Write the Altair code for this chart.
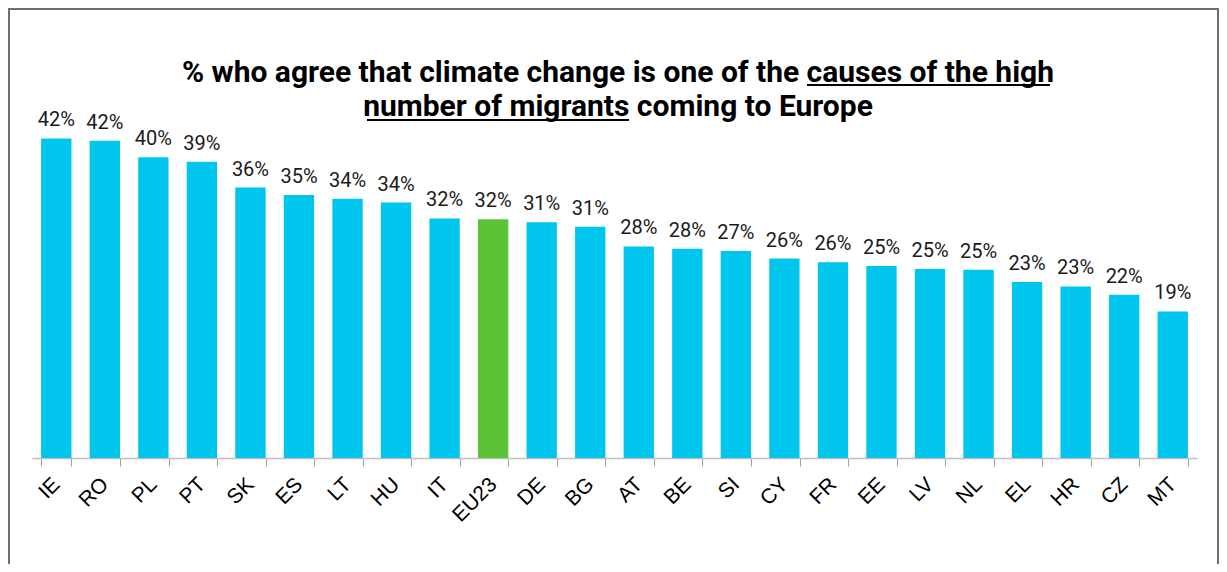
import altair as alt
import pandas as pd

countries = ["IE", "RO", "PL", "PT", "SK", "ES", "LT", "HU", "IT", "EU23", "DE", "BG",
             "AT", "BE", "SI", "CY", "FR", "EE", "LV", "NL", "EL", "HR", "CZ", "MT"]
values = [42.3, 42.0, 39.8, 39.2, 35.8, 34.8, 34.3, 33.8, 31.7, 31.6, 31.2, 30.6,
          28.0, 27.7, 27.4, 26.4, 25.9, 25.4, 25.0, 24.9, 23.3, 22.7, 21.6, 19.4]
highlight = "EU23"

title_line1 = "% who agree that climate change is one of the causes of the high"
title_line2 = "number of migrants coming to Europe"

CYAN = "#00C6EE"
GREEN = "#5BC335"

df = pd.DataFrame({
    "country": countries,
    "value": values,
    "label": [f"{round(v)}%" for v in values],
    "color": [GREEN if c == highlight else CYAN for c in countries],
})

one = alt.Data(values=[{}])

x_enc = alt.X(
    "country:N",
    sort=countries,
    scale=alt.Scale(paddingInner=0.375, paddingOuter=0.1875),
    axis=alt.Axis(
        title=None,
        labelAngle=-45,
        labelAlign="right",
        labelBaseline="middle",
        labelFont="Liberation Sans",
        labelFontSize=21,
        labelColor="#000000",
        labelPadding=15,
        tickBand="extent",
        tickSize=8,
        tickColor="#a0a0a0",
        domainColor="#bfbfbf",
        domainWidth=1.5,
        grid=False,
    ),
)
y_enc = alt.Y("value:Q", scale=alt.Scale(domain=[0, 45]), axis=None)

frame = alt.Chart(one).mark_rect(fillOpacity=0, stroke="#6e6e6e", strokeWidth=2).encode(
    x=alt.value(-23), x2=alt.value(1186), y=alt.value(-109), y2=alt.value(470)
)

bars = alt.Chart(df).mark_bar().encode(
    x=x_enc,
    y=y_enc,
    color=alt.Color("color:N", scale=None),
)

labels = alt.Chart(df).mark_text(
    baseline="alphabetic", dy=-12, font="Roboto", fontSize=20, color="#1a1a1a"
).encode(x=alt.X("country:N", sort=countries), y=y_enc, text="label:N")

title = alt.Chart(one).mark_text(
    text=[title_line1, title_line2],
    font="Roboto",
    fontSize=30,
    fontWeight="bold",
    color="#000000",
    align="center",
    baseline="alphabetic",
    lineHeight=34,
).encode(x=alt.value(586), y=alt.value(-36))

ul1 = alt.Chart(one).mark_rule(color="#000000", strokeWidth=2).encode(
    x=alt.value(775), x2=alt.value(1018), y=alt.value(-33)
)
ul2 = alt.Chart(one).mark_rule(color="#000000", strokeWidth=2).encode(
    x=alt.value(335), x2=alt.value(597), y=alt.value(2)
)

chart = alt.layer(frame, bars, labels, title, ul1, ul2).properties(
    width=1165,
    height=340,
    autosize=alt.AutoSizeParams(type="none"),
    padding={"left": 24, "top": 110, "right": 22, "bottom": 106},
    background="#ffffff",
).configure_view(stroke=None)

chart.save("out.html", embed_options={"renderer": "svg", "actions": False})
